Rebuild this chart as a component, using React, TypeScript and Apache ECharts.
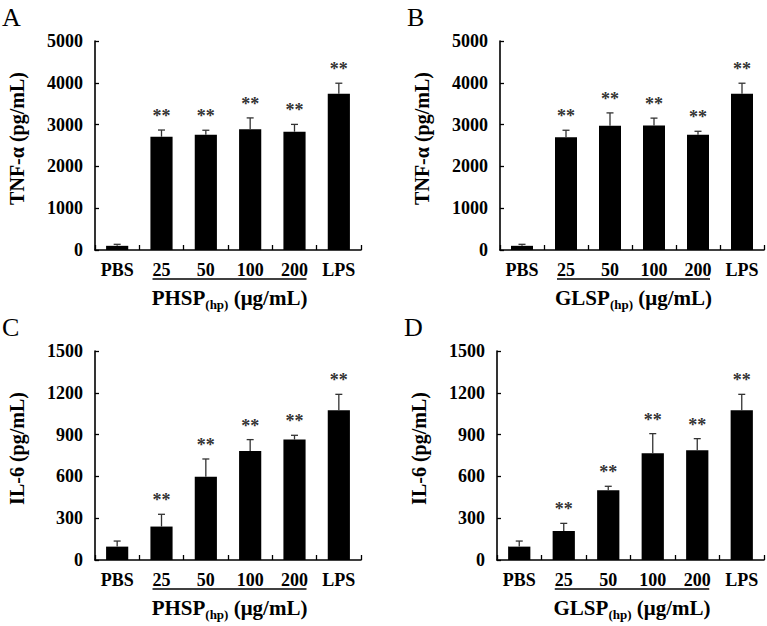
import React, { useEffect, useRef } from "react";
import * as echarts from "echarts";

const categories = ["PBS", "25", "50", "100", "200", "LPS"];
const significance = ["", "**", "**", "**", "**", "**"];

const tnfPhspMean = [100, 2710, 2760, 2890, 2830, 3740];
const tnfPhspErr = [36, 160, 105, 270, 175, 250];
const tnfGlspMean = [100, 2700, 2970, 2980, 2760, 3740];
const tnfGlspErr = [36, 165, 310, 175, 80, 250];
const il6PhspMean = [96, 240, 598, 782, 864, 1074];
const il6PhspErr = [40, 88, 127, 82, 31, 115];
const il6GlspMean = [96, 208, 500, 766, 787, 1074];
const il6GlspErr = [40, 55, 29, 141, 84, 115];

const tnfTicks = [0, 1000, 2000, 3000, 4000, 5000];
const il6Ticks = [0, 300, 600, 900, 1200, 1500];

const panelLetters = ["A", "B", "C", "D"];
const yTitles = ["TNF-α (pg/mL)", "TNF-α (pg/mL)", "IL-6 (pg/mL)", "IL-6 (pg/mL)"];
const agents = ["PHSP", "GLSP", "PHSP", "GLSP"];

const FONT = "'Liberation Serif', 'Times New Roman', serif";

const panels = [
  { mean: tnfPhspMean, err: tnfPhspErr, ticks: tnfTicks },
  { mean: tnfGlspMean, err: tnfGlspErr, ticks: tnfTicks },
  { mean: il6PhspMean, err: il6PhspErr, ticks: il6Ticks },
  { mean: il6GlspMean, err: il6GlspErr, ticks: il6Ticks },
];

const grids = [
  { left: 95, top: 41, width: 266, height: 209 },
  { left: 500, top: 41, width: 264, height: 209 },
  { left: 95, top: 351, width: 266, height: 209 },
  { left: 497, top: 351, width: 267, height: 209 },
];

export default function App() {
  const ref = useRef<HTMLDivElement>(null);

  useEffect(() => {
    document.body.style.margin = "0";
    if (!ref.current) return;
    const chart = echarts.init(ref.current, undefined, { renderer: "svg" });

    const xAxes = panels.map((_, i) => ({
      type: "category",
      gridIndex: i,
      data: categories,
      axisLine: { show: true, lineStyle: { color: "#000", width: 1.6 } },
      axisTick: { show: true, inside: true, length: 5, lineStyle: { color: "#000", width: 1.3 } },
      axisLabel: {
        interval: 0,
        color: "#000",
        fontFamily: FONT,
        fontWeight: "bold",
        fontSize: 18,
        margin: 11,
      },
    }));

    const yAxes = panels.map((p, i) => ({
      type: "value",
      gridIndex: i,
      min: p.ticks[0],
      max: p.ticks[p.ticks.length - 1],
      interval: p.ticks[1] - p.ticks[0],
      axisLine: { show: true, lineStyle: { color: "#000", width: 1.6 } },
      axisTick: { show: true, inside: true, length: 4, lineStyle: { color: "#000", width: 1.3 } },
      splitLine: { show: false },
      axisLabel: {
        color: "#000",
        fontFamily: FONT,
        fontWeight: "bold",
        fontSize: 18,
        margin: 12,
        formatter: (v: number) => String(v),
      },
      name: yTitles[i],
      nameLocation: "middle",
      nameGap: 68,
      nameTextStyle: {
        color: "#000",
        fontFamily: FONT,
        fontWeight: "bold",
        fontSize: 20,
        padding: [0, 0, 0, 14],
      },
    }));

    const series: any[] = [];
    panels.forEach((p, i) => {
      series.push({
        type: "bar",
        xAxisIndex: i,
        yAxisIndex: i,
        data: p.mean,
        barWidth: "50%",
        itemStyle: { color: "#000" },
        z: 2,
      });
      series.push({
        type: "custom",
        xAxisIndex: i,
        yAxisIndex: i,
        z: 3,
        data: p.mean.map((m, k) => [k, m, p.err[k]]),
        renderItem: (params: any, api: any) => {
          const idx = api.value(0);
          const m = api.value(1);
          const e = api.value(2);
          const base = api.coord([idx, m]);
          const top = api.coord([idx, m + e]);
          const sig = significance[params.dataIndex];
          return {
            type: "group",
            children: [
              {
                type: "line",
                shape: { x1: base[0], y1: base[1], x2: top[0], y2: top[1] },
                style: { stroke: "#333", lineWidth: 1.3 },
              },
              {
                type: "line",
                shape: { x1: top[0] - 3.5, y1: top[1], x2: top[0] + 3.5, y2: top[1] },
                style: { stroke: "#333", lineWidth: 1.3 },
              },
              {
                type: "text",
                x: top[0],
                y: top[1] - 14,
                style: {
                  text: sig,
                  fill: "#333",
                  font: `bold 18px ${FONT}`,
                  textAlign: "center",
                  textVerticalAlign: "middle",
                  align: "center",
                  verticalAlign: "middle",
                },
              },
            ],
          };
        },
      });
    });

    chart.setOption({
      animation: false,
      backgroundColor: "#fff",
      grid: grids.map((g) => ({ ...g, containLabel: false })),
      xAxis: xAxes,
      yAxis: yAxes,
      series,
    });

    const graphics: any[] = [];
    grids.forEach((g, i) => {
      graphics.push({
        type: "text",
        x: g.left - 93,
        y: g.top - 37,
        style: {
          text: panelLetters[i],
          font: `26px ${FONT}`,
          fill: "#000",
          textVerticalAlign: "top",
          verticalAlign: "top",
        },
      });
      const c25 = chart.convertToPixel({ xAxisIndex: i } as any, "25") as any;
      const c200 = chart.convertToPixel({ xAxisIndex: i } as any, "200") as any;
      const x1 = c25 - 9;
      const x2 = c200 + 12;
      const bottom = g.top + g.height;
      graphics.push({
        type: "line",
        shape: { x1, y1: bottom + 29, x2, y2: bottom + 29 },
        style: { stroke: "#000", lineWidth: 1.6 },
      });
      graphics.push({
        type: "text",
        x: (x1 + x2) / 2,
        y: bottom + 48,
        style: {
          text: `{a|${agents[i]}}{s|(hp)}{a| (μg/mL)}`,
          rich: {
            a: { fontFamily: FONT, fontWeight: "bold", fontSize: 21, lineHeight: 26, verticalAlign: "middle", fill: "#000", color: "#000" },
            s: { fontFamily: FONT, fontWeight: "bold", fontSize: 13, lineHeight: 12, verticalAlign: "bottom", fill: "#000", color: "#000" },
          },
          textAlign: "center",
          textVerticalAlign: "middle",
          align: "center",
          verticalAlign: "middle",
        },
      });
    });

    chart.setOption({ graphic: graphics });

    return () => {
      chart.dispose();
    };
  }, []);

  return <div ref={ref} style={{ width: 767, height: 626 }} />;
}
